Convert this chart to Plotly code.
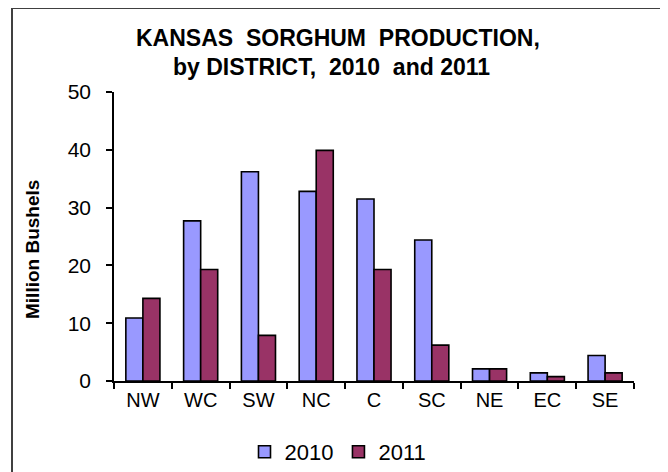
import plotly.graph_objects as go

districts = ["NW", "WC", "SW", "NC", "C", "SC", "NE", "EC", "SE"]
prod_2010 = [10.9, 27.7, 36.2, 32.8, 31.5, 24.4, 2.1, 1.4, 4.4]
prod_2011 = [14.3, 19.3, 7.9, 39.9, 19.3, 6.2, 2.1, 0.75, 1.4]

FONT = "Arial, Liberation Sans, sans-serif"

fig = go.Figure()
fig.add_trace(go.Bar(x=districts, y=prod_2010, name="2010",
                     marker=dict(color="#9999FF", line=dict(color="black", width=1.6))))
fig.add_trace(go.Bar(x=districts, y=prod_2011, name="2011",
                     marker=dict(color="#993366", line=dict(color="black", width=1.6))))

# page has an 8px body margin, so the figure is offset by 8px
OFF = 8
W, H = 668 - OFF, 472 - OFF
# plot area in page coordinates: x 114..634, y 92..381
L = 114 - OFF
T = 92 - OFF
R = W - (634 - OFF)
B = H - (381 - OFF)
pw, ph = W - L - R, H - T - B

def px(xp):
    return (xp - OFF - L) / pw

def py(yp):
    return (H - B - (yp - OFF)) / ph

fig.update_layout(
    width=W, height=H,
    margin=dict(l=L, r=R, t=T, b=B, autoexpand=False),
    paper_bgcolor="white", plot_bgcolor="white",
    barmode="group", bargap=0.41, bargroupgap=0,
    font=dict(family=FONT, color="black"),
    showlegend=True,
    legend=dict(orientation="h", x=px(338), y=py(452), xanchor="center", yanchor="middle",
                font=dict(size=22, family=FONT), tracegroupgap=0,
                bgcolor="rgba(0,0,0,0)"),
    xaxis=dict(showline=True, linecolor="black", linewidth=1.5, ticks="outside",
               tickson="boundaries", ticklen=6, tickwidth=1.5, tickcolor="black",
               tickfont=dict(size=20, family=FONT), showgrid=False),
    yaxis=dict(range=[0, 50], dtick=10, showline=True, linecolor="black", linewidth=1.5,
               ticks="outside", ticklen=6, tickwidth=1.5, tickcolor="black",
               tickfont=dict(size=21, family=FONT), showgrid=False, zeroline=False,
               ticklabelstandoff=11),
    shapes=[dict(type="rect", xref="paper", yref="paper",
                 x0=px(12), x1=px(662), y0=py(8), y1=py(520),
                 line=dict(color="#404040", width=2), fillcolor="rgba(0,0,0,0)", layer="below")],
    annotations=[
        dict(text="<b>KANSAS  SORGHUM  PRODUCTION,</b>", xref="paper", yref="paper",
             x=px(338), y=py(38), xanchor="center", yanchor="middle", showarrow=False,
             font=dict(size=23, family=FONT)),
        dict(text="<b>by DISTRICT,  2010  and 2011</b>", xref="paper", yref="paper",
             x=px(331), y=py(67), xanchor="center", yanchor="middle", showarrow=False,
             font=dict(size=23, family=FONT)),
        dict(text="<b>Million Bushels</b>", xref="paper", yref="paper",
             x=px(33), y=py(250), xanchor="center", yanchor="middle", showarrow=False,
             textangle=-90, font=dict(size=19, family=FONT)),
    ],
)

fig.write_html("out.html")
